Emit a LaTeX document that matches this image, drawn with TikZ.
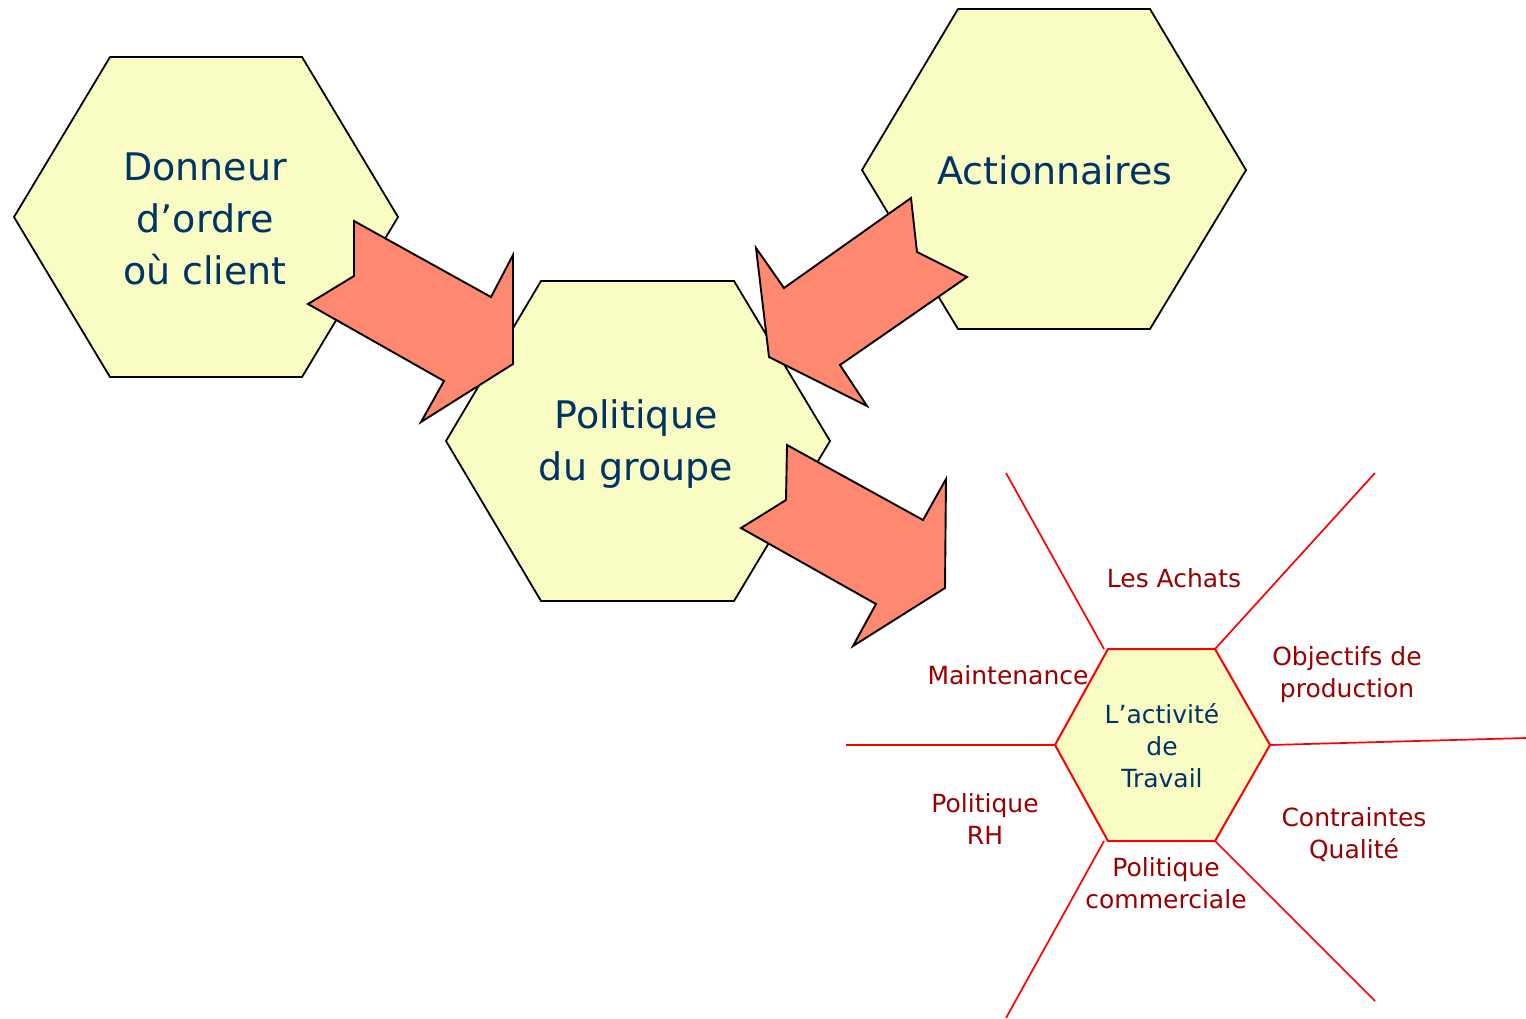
\documentclass[tikz,border=0pt]{standalone}
\usepackage{fontspec}
\setmainfont{DejaVu Sans}
\definecolor{hexfill}{RGB}{249,253,196}
\definecolor{arrfill}{RGB}{255,137,112}
\definecolor{navy}{RGB}{0,51,102}
\definecolor{darkred}{RGB}{153,0,0}
\definecolor{pure}{RGB}{255,0,0}
\tikzset{
  hexa/.style={draw=black,fill=hexfill,line width=1.8pt,line join=miter},
  redhexa/.style={draw=pure,fill=hexfill,line width=2pt},
  blockarrow/.style={draw=black,fill=arrfill,line width=1.9pt,line join=miter},
  spoke/.style={draw=pure,line width=1.7pt},
  bigtxt/.style={text=navy,align=center,inner sep=0pt,font=\fontsize{38}{52}\selectfont},
  smalltxt/.style={text=navy,align=center,inner sep=0pt,font=\fontsize{25}{32}\selectfont},
  lbl/.style={text=darkred,align=center,inner sep=0pt,font=\fontsize{25}{32}\selectfont}
}
\begin{document}
\begin{tikzpicture}[x=1pt,y=-1pt]
\useasboundingbox (0,0) rectangle (1526,1018);
\fill[white] (0,0) rectangle (1526,1018);
% hexagons
\draw[hexa] (14,217) -- (110,57) -- (302,57) -- (398,217) -- (302,377) -- (110,377) -- cycle;
\draw[hexa] (862,170) -- (958,9) -- (1150,9) -- (1246,170) -- (1150,329) -- (958,329) -- cycle;
\draw[hexa] (446,441) -- (541,281) -- (734,281) -- (830,441) -- (734,601) -- (541,601) -- cycle;
\node[bigtxt] (donneur) at (205,219) {Donneur\\ d’ordre\\où client};
\node[bigtxt] (action) at (1055,170) {Actionnaires};
\node[bigtxt] (politique) at (636,444) {Politique\\ du groupe};
% block arrows
\draw[blockarrow] (354,221) -- (491,297) -- (513,255) -- (513,364) -- (421,422) -- (444,381) -- (308,304) -- (354,276) -- cycle;
\draw[blockarrow] (911,198) -- (917,252) -- (967,277) -- (840,365) -- (867,406) -- (769,357) -- (756,248) -- (784,288) -- cycle;
\draw[blockarrow] (787,445) -- (923,520) -- (946,479) -- (945,588) -- (853,646) -- (876,604) -- (741,528) -- (786,500) -- cycle;
% spokes
\coordinate (tl) at (1108,649);
\coordinate (tr) at (1215,649);
\coordinate (r) at (1270,745);
\coordinate (br) at (1215,841);
\coordinate (bl) at (1108,841);
\coordinate (l) at (1055,745);
\coordinate (e1) at (1006,473);
\coordinate (e2) at (1375,473);
\coordinate (e3) at (1526,738);
\coordinate (e4) at (1375,1001);
\coordinate (e5) at (1006,1018);
\coordinate (e6) at (846,745);
\draw[spoke] (e1) -- (1104,649);
\draw[spoke] (e2) -- (tr);
\draw[spoke] (e3) -- (r);
\draw[spoke] (e4) -- (br);
\draw[spoke] (e5) -- (1104,841);
\draw[spoke] (e6) -- (l);
\draw[redhexa] (l) -- (tl) -- (tr) -- (r) -- (br) -- (bl) -- cycle;
\node[smalltxt] (activite) at (1162,746) {L’activité\\de\\Travail};
% labels
\node[lbl] (achats) at (1174,578) {Les Achats};
\node[lbl] (objectifs) at (1347,675) {Objectifs de\\production};
\node[lbl] (maint) at (1008,675) {Maintenance};
\node[lbl] (rh) at (985,819) {Politique\\RH};
\node[lbl] (qualite) at (1354,835) {Contraintes\\Qualité};
\node[lbl] (commerciale) at (1166,883) {Politique\\commerciale};
\end{tikzpicture}
\end{document}
